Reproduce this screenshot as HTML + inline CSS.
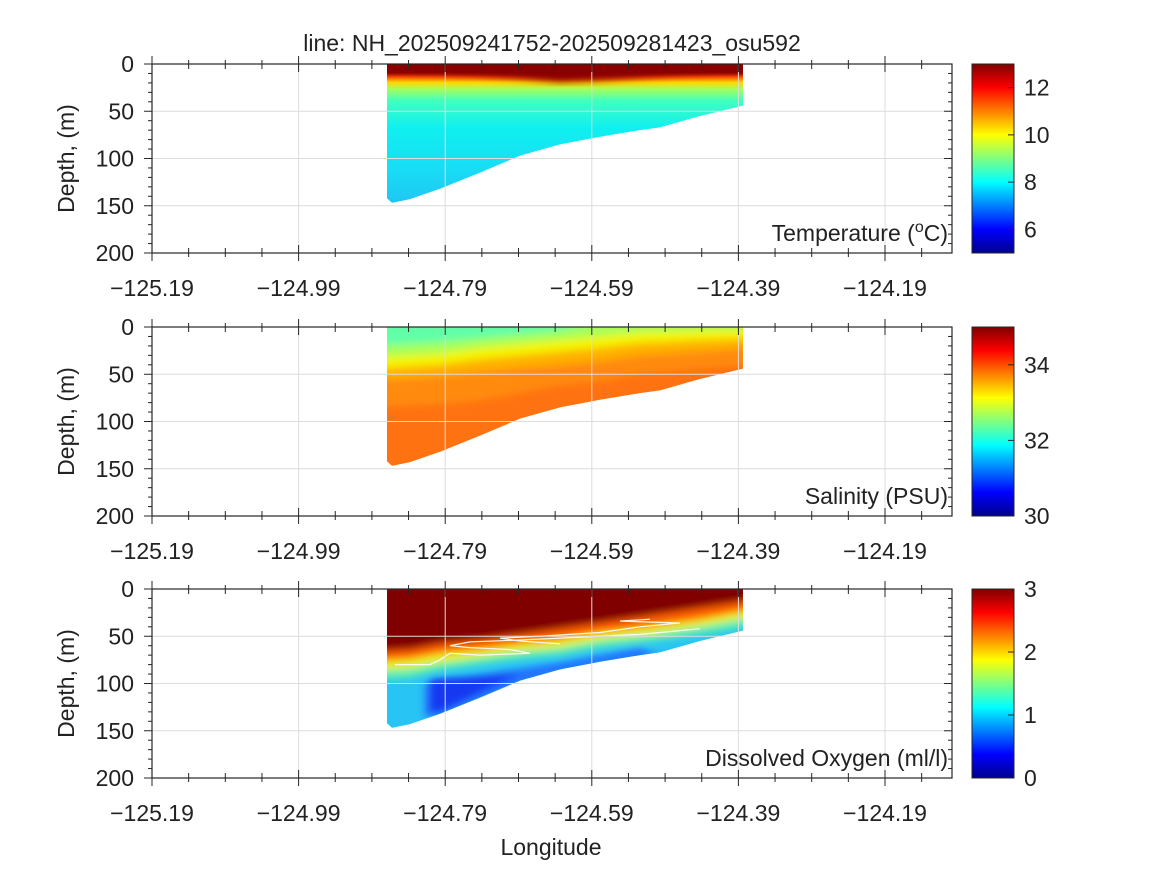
<!DOCTYPE html>
<html><head><meta charset="utf-8"><style>
body{margin:0;background:#fff;}
svg{display:block;font-family:"Liberation Sans","DejaVu Sans",sans-serif;}
.t{font-size:23px;fill:#222;}
</style></head><body>
<svg width="1167" height="875" viewBox="0 0 1167 875" xmlns="http://www.w3.org/2000/svg">
<defs>
<linearGradient id="jet" x1="0" y1="0" x2="0" y2="1">
<stop offset="0" stop-color="#800000"/><stop offset="0.125" stop-color="#ff0000"/>
<stop offset="0.375" stop-color="#ffff00"/><stop offset="0.5" stop-color="#80ff80"/>
<stop offset="0.625" stop-color="#00ffff"/><stop offset="0.875" stop-color="#0000ff"/>
<stop offset="1" stop-color="#00008f"/></linearGradient>
<linearGradient id="tg" gradientUnits="userSpaceOnUse" x1="0" y1="0" x2="0" y2="150">
<stop offset="0" stop-color="#800000"/><stop offset="0.06" stop-color="#900000"/>
<stop offset="0.09" stop-color="#ff5000"/><stop offset="0.13" stop-color="#ffd800"/>
<stop offset="0.18" stop-color="#a0ff60"/><stop offset="0.26" stop-color="#40ffc0"/>
<stop offset="0.45" stop-color="#10f0f0"/><stop offset="0.75" stop-color="#18dcf4"/>
<stop offset="1" stop-color="#20c4f4"/></linearGradient>
<clipPath id="reg"><path d="M387,0 L743,0 L743,44 L700,55 L660,67 L640,70 L600,77 L560,85 L520,97 L480,115 L440,132 L410,143 L392,147 L387,142 Z"/></clipPath>
<filter id="bl" x="-0.2" y="-0.2" width="1.4" height="1.4"><feGaussianBlur stdDeviation="4 4"/></filter>
</defs>

<text class="t" x="552" y="51" text-anchor="middle" font-size="22">line: NH_202509241752-202509281423_osu592</text>

<g transform="translate(0,64) scale(1,0.945)">
 <g clip-path="url(#reg)">
  <rect x="380" y="-5" width="370" height="160" fill="url(#tg)"/>
  <path filter="url(#bl)" d="M380,-5 L750,-5 L750,8 L720,9 L680,11 L640,14 L600,17 L560,19 L520,15 L480,12 L440,10 L400,9 L380,9 Z" fill="#8a0000"/>
 </g>
</g>
<g transform="translate(0,327) scale(1,0.945)">
 <g clip-path="url(#reg)">
  <rect x="380" y="-5" width="370" height="160" fill="#ff7212"/>
  <g filter="url(#bl)">
  <path d="M380,-5 L750,-5 L750,40 L700,44 L640,50 L600,58 L560,62 L520,70 L480,78 L440,82 L380,85 Z" fill="#ff8a08"/>
  <path d="M380,-5 L750,-5 L750,22 L700,26 L640,30 L600,36 L560,40 L520,44 L480,48 L440,52 L380,56 Z" fill="#ffb000"/>
  <path d="M380,-5 L750,-5 L750,12 L700,14 L640,17 L600,22 L560,26 L520,30 L480,34 L440,40 L380,44 Z" fill="#f4f400"/>
  <path d="M380,-5 L750,-5 L750,3 L700,4 L640,6 L600,10 L560,14 L520,18 L480,22 L440,28 L380,32 Z" fill="#a8ff58"/>
  <path d="M380,-5 L600,-5 L560,4 L520,8 L480,12 L440,16 L380,20 Z" fill="#60ffa8"/>
  </g>
 </g>
</g>
<g transform="translate(0,589) scale(1,0.945)">
 <g clip-path="url(#reg)">
  <rect x="380" y="-5" width="370" height="160" fill="#28c4f4"/>
  <g filter="url(#bl)">
  <path d="M425,100 L560,78 L640,62 L660,72 L600,80 L520,100 L440,135 L425,135 Z" fill="#2070ff"/>
  <path d="M430,95 L520,90 L470,115 L440,130 L430,130 Z" fill="#1838f0"/>
  <path d="M380,-5 L750,-5 L750,40 L700,48 L650,56 L600,62 L560,70 L520,74 L480,80 L440,86 L410,94 L380,96 Z" fill="#60f0b0"/>
  <path d="M380,-5 L750,-5 L750,30 L700,40 L650,48 L600,54 L560,62 L520,66 L480,72 L440,78 L410,84 L380,86 Z" fill="#e8f020"/>
  <path d="M380,-5 L750,-5 L750,22 L700,32 L650,40 L600,46 L560,54 L520,58 L480,64 L440,68 L410,74 L380,76 Z" fill="#ff6000"/>
  <path d="M380,-5 L750,-5 L750,12 L700,20 L650,28 L600,36 L560,42 L520,48 L480,54 L440,58 L410,64 L380,66 Z" fill="#800000"/>
  </g>
 </g>
 <g fill="none" stroke="#fff" stroke-width="1.3" vector-effect="non-scaling-stroke" opacity="0.9">
  <path d="M395,80 L430,80 L440,75 L450,68 L480,70 L530,68 L510,64 L470,62 L450,60 L470,56 L520,54 L560,52 L600,50 L640,48 L680,44 L700,42"/>
  <path d="M560,58 L520,55 L500,52 L540,50 L600,46 L640,40 L680,36 L620,34 L650,32"/>
 </g>
</g>

<g id="axes"></g>
<script>
(function(){
var NS="http://www.w3.org/2000/svg",g=document.getElementById('axes');
function el(t,a,txt){var e=document.createElementNS(NS,t);for(var k in a)e.setAttribute(k,a[k]);if(txt!==undefined)e.textContent=txt;g.appendChild(e);return e;}
var L=152,R=952,px=146.6/0.2;
var panels=[{top:64,lab:'Temperature (',sup:'o',lab2:'C)',cb:[5,13],ct:[6,8,10,12]},
{top:327,lab:'Salinity (PSU)',cb:[30,35],ct:[30,32,34]},
{top:589,lab:'Dissolved Oxygen (ml/l)',cb:[0,3],ct:[0,1,2,3]}];
panels.forEach(function(p){
 var T=p.top,B=T+189,H=189;
 var xm=[-125.19,-124.99,-124.79,-124.59,-124.39,-124.19];
 xm.forEach(function(v){var x=L+(v+125.19)*px;el('line',{x1:x,y1:T,x2:x,y2:B,stroke:'#dcdcdc','stroke-width':1});});
 [50,100,150].forEach(function(d){var y=T+d*H/200;el('line',{x1:L,y1:y,x2:R,y2:y,stroke:'#dcdcdc','stroke-width':1});});
 el('rect',{x:L,y:T,width:R-L,height:H,fill:'none',stroke:'#262626','stroke-width':1.2});
 for(var i=0;i<=21;i++){var x=L+i*36.65;if(x>R+1)break;var maj=(i%4==0);var len=maj?8:5;
  el('line',{x1:x,y1:B,x2:x,y2:B-len,stroke:'#262626'});el('line',{x1:x,y1:T,x2:x,y2:T+len,stroke:'#262626'});
  el('line',{x1:x,y1:B,x2:x,y2:B+(maj?8:4),stroke:'#262626'});el('line',{x1:x,y1:T,x2:x,y2:T-(maj?8:4),stroke:'#262626'});}
 for(var d=0;d<=200;d+=10){var y=T+d*H/200;var maj=(d%50==0);
  el('line',{x1:L,y1:y,x2:L-(maj?8:4),y2:y,stroke:'#262626'});el('line',{x1:R,y1:y,x2:R-(maj?8:4),y2:y,stroke:'#262626'});
  if(maj)el('text',{'class':'t',x:134,y:y+8,'text-anchor':'end'},String(d));}
 xm.forEach(function(v){var x=L+(v+125.19)*px;el('text',{'class':'t',x:x,y:B+43,'text-anchor':'middle'},'\u2212'+(-v).toFixed(2));});
 el('text',{'class':'t',x:0,y:0,'text-anchor':'middle',transform:'translate(74,'+(T+H/2)+') rotate(-90)'},'Depth, (m)');
 var t=el('text',{'class':'t',x:948,y:B-12,'text-anchor':'end'});
 t.appendChild(document.createTextNode(p.lab));
 if(p.sup){var s=document.createElementNS(NS,'tspan');s.setAttribute('dy','-9');s.setAttribute('font-size','16');s.textContent=p.sup;t.appendChild(s);
  var s2=document.createElementNS(NS,'tspan');s2.setAttribute('dy','9');s2.textContent=p.lab2;t.appendChild(s2);}
 el('rect',{x:972,y:T,width:42,height:H,fill:'url(#jet)',stroke:'#262626','stroke-width':1});
 p.ct.forEach(function(v){var y=B-(v-p.cb[0])/(p.cb[1]-p.cb[0])*H;
  el('line',{x1:1014,y1:y,x2:1008,y2:y,stroke:'#262626'});
  el('text',{'class':'t',x:1024,y:y+8},String(v));});
});
el('text',{'class':'t',x:551,y:855,'text-anchor':'middle'},'Longitude');
})();
</script>
</svg>
</body></html>
